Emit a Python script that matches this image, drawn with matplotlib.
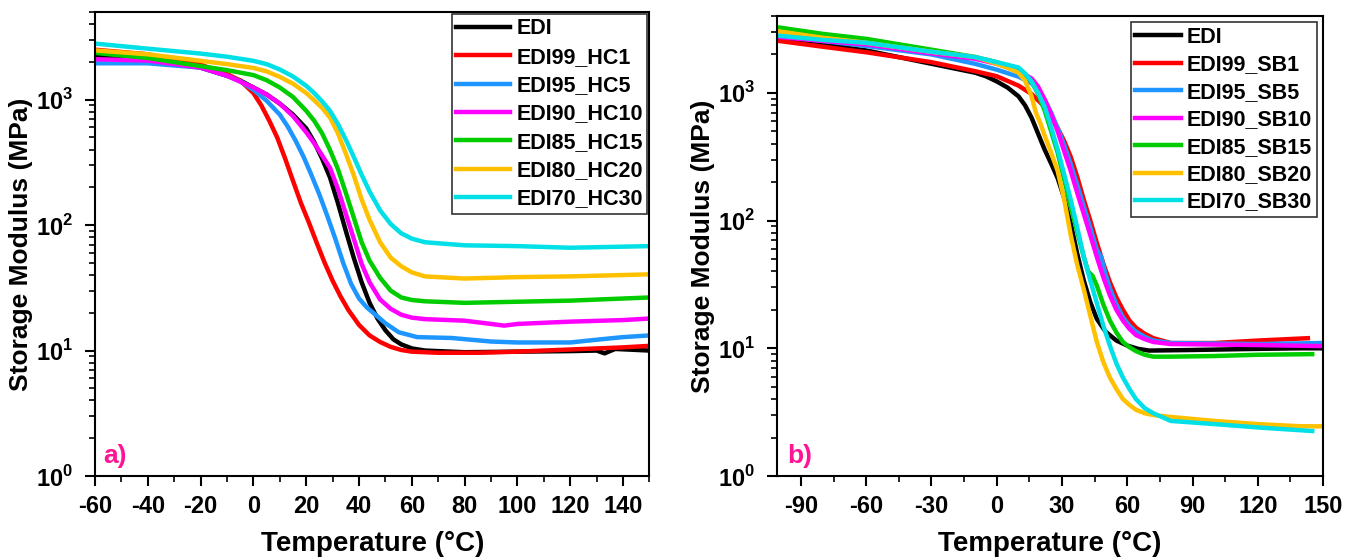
import matplotlib
matplotlib.use("Agg")
import matplotlib.pyplot as plt
from matplotlib.ticker import FixedLocator, MultipleLocator, LogLocator, NullFormatter

plt.rcParams['font.family'] = ['Liberation Sans', 'DejaVu Sans']
plt.rcParams['font.weight'] = 'bold'
plt.rcParams['axes.unicode_minus'] = False
plt.rcParams['mathtext.fontset'] = 'custom'
plt.rcParams['mathtext.rm'] = 'Liberation Sans:bold'
plt.rcParams['mathtext.bf'] = 'Liberation Sans:bold'

# ---- panel a: EDI / HC blends ----
labels_a = ['EDI', 'EDI99_HC1', 'EDI95_HC5', 'EDI90_HC10', 'EDI85_HC15', 'EDI80_HC20', 'EDI70_HC30']

t_edi_a = [-60, -40, -20, -10, -5, 0, 5, 10, 15, 20, 23, 26, 29, 32, 35, 38, 41, 44, 47, 50, 53, 56, 60, 65, 80, 100, 120, 130, 133, 137, 150]
m_edi_a = [2250, 2150, 1800, 1550, 1420, 1250, 1100, 930, 760, 590, 460, 340, 240, 150, 90, 55, 35, 24, 18, 14.5, 12.3, 11.2, 10.4, 10, 9.7, 9.8, 9.9, 10, 9.5, 10.3, 10]

t_hc1 = [-60, -40, -20, -10, -5, 0, 3, 6, 9, 12, 15, 18, 21, 24, 27, 30, 33, 36, 40, 44, 48, 52, 56, 60, 70, 85, 100, 120, 140, 150]
m_hc1 = [2500, 2300, 1900, 1600, 1420, 1130, 900, 680, 500, 340, 225, 150, 105, 72, 50, 36, 27, 21, 16, 13.2, 11.7, 10.7, 10.1, 9.8, 9.6, 9.6, 9.8, 10.2, 10.6, 10.9]

t_hc5 = [-60, -40, -20, -10, -5, 0, 5, 10, 13, 16, 19, 22, 25, 28, 31, 34, 37, 40, 43, 46, 50, 55, 62, 75, 90, 100, 120, 130, 140, 150]
m_hc5 = [1950, 1950, 1800, 1550, 1400, 1200, 980, 760, 610, 470, 350, 250, 175, 118, 78, 50, 34, 26, 22, 19.5, 16.5, 14, 12.8, 12.6, 11.8, 11.6, 11.6, 12.2, 12.8, 13.2]

t_hc10 = [-60, -40, -20, -10, 0, 5, 10, 15, 20, 23, 26, 29, 32, 35, 38, 41, 44, 48, 52, 56, 60, 65, 80, 90, 95, 100, 120, 140, 150]
m_hc10 = [2100, 2050, 1800, 1550, 1250, 1100, 930, 740, 550, 450, 360, 286, 195, 123, 78, 49, 35, 25.5, 21.5, 19.3, 18.3, 17.8, 17.3, 16.3, 15.8, 16.3, 17, 17.5, 18]

t_hc15 = [-60, -40, -20, -10, 0, 5, 10, 15, 20, 23, 26, 29, 32, 35, 38, 41, 44, 48, 52, 56, 60, 65, 80, 100, 120, 150]
m_hc15 = [2360, 2150, 1850, 1720, 1570, 1430, 1250, 1050, 815, 680, 540, 398, 280, 181, 115, 73, 52, 38, 30, 26.5, 25.3, 24.7, 24, 24.5, 25, 26.5]

t_hc20 = [-60, -40, -20, -10, 0, 5, 10, 15, 20, 23, 26, 29, 32, 35, 38, 41, 44, 48, 52, 56, 60, 65, 80, 100, 120, 150]
m_hc20 = [2470, 2300, 2040, 1920, 1790, 1680, 1520, 1340, 1130, 990, 860, 720, 540, 372, 250, 160, 110, 73, 55, 47, 42, 39, 37.5, 38.5, 39, 40.5]

t_hc30 = [-60, -40, -20, -10, 0, 5, 10, 15, 20, 23, 26, 29, 32, 35, 38, 41, 44, 48, 52, 56, 60, 65, 80, 100, 120, 150]
m_hc30 = [2800, 2550, 2330, 2200, 2040, 1920, 1740, 1530, 1290, 1130, 970, 815, 640, 480, 350, 252, 185, 131, 102, 86, 78, 73, 69, 68, 66, 68]

# ---- panel b: EDI / SB blends ----
labels_b = ['EDI', 'EDI99_SB1', 'EDI95_SB5', 'EDI90_SB10', 'EDI85_SB15', 'EDI80_SB20', 'EDI70_SB30']

t_edi_b = [-100, -80, -60, -30, -10, -5, 0, 5, 10, 13, 16, 19, 22, 25, 28, 31, 34, 37, 40, 43, 46, 50, 55, 60, 65, 70, 90, 120, 140, 150]
m_edi_b = [2700, 2400, 2150, 1690, 1440, 1350, 1230, 1100, 940, 800, 640, 480, 360, 280, 215, 150, 95, 55, 34, 23, 17, 13.5, 11.5, 10.5, 9.9, 9.6, 9.7, 9.9, 10, 10]

t_sb1 = [-100, -80, -60, -30, -10, 0, 10, 16, 22, 25, 28, 31, 34, 37, 40, 43, 46, 49, 52, 55, 58, 61, 64, 68, 72, 80, 100, 120, 143]
m_sb1 = [2550, 2300, 2080, 1740, 1480, 1350, 1140, 980, 780, 650, 530, 420, 316, 220, 146, 100, 67, 46, 33, 25, 20, 16.5, 14.5, 13, 12, 11, 11, 11.5, 12]

t_sb5 = [-100, -80, -60, -30, -10, 0, 10, 16, 19, 22, 25, 28, 31, 34, 37, 40, 43, 46, 48, 50, 52, 55, 58, 61, 64, 68, 72, 80, 120, 150]
m_sb5 = [2800, 2550, 2330, 2000, 1690, 1520, 1340, 1190, 1050, 890, 700, 530, 390, 277, 190, 129, 88, 59, 52, 38, 29.5, 22, 17.5, 15, 13.5, 12.3, 11.5, 11, 10.8, 11]

t_sb10 = [-100, -80, -60, -30, -10, 0, 10, 16, 19, 22, 25, 28, 31, 34, 37, 40, 43, 46, 49, 52, 55, 58, 61, 64, 68, 72, 80, 120, 150]
m_sb10 = [2740, 2550, 2400, 2040, 1850, 1690, 1480, 1300, 1120, 890, 680, 500, 350, 245, 165, 113, 77, 52, 36, 26, 20, 16.5, 14.2, 12.7, 11.8, 11.2, 10.8, 10.6, 10.4]

t_sb15 = [-100, -80, -60, -30, -10, 0, 10, 16, 19, 22, 25, 28, 31, 34, 37, 40, 42, 44, 46, 49, 52, 55, 58, 61, 64, 68, 72, 80, 100, 120, 145]
m_sb15 = [3250, 2900, 2650, 2180, 1910, 1740, 1520, 1230, 980, 730, 500, 340, 210, 129, 82, 52, 40, 37, 31, 22, 16.5, 13.3, 11.2, 10.2, 9.5, 8.9, 8.6, 8.6, 8.7, 8.9, 9]

t_sb20 = [-100, -80, -60, -30, -10, 0, 5, 10, 13, 16, 18, 20, 22, 25, 28, 31, 34, 37, 40, 43, 46, 49, 52, 55, 58, 61, 64, 68, 72, 80, 100, 120, 140, 150]
m_sb20 = [3030, 2700, 2470, 2100, 1910, 1690, 1570, 1440, 1250, 940, 700, 580, 465, 340, 245, 146, 77, 45, 29, 18, 11.2, 7.8, 5.9, 4.8, 4.0, 3.6, 3.3, 3.1, 3.0, 2.9, 2.7, 2.55, 2.45, 2.45]

t_sb30 = [-100, -80, -60, -30, -10, 0, 5, 10, 13, 16, 19, 22, 25, 28, 31, 34, 37, 40, 43, 46, 49, 52, 55, 58, 61, 64, 68, 72, 80, 100, 120, 145]
m_sb30 = [2800, 2600, 2470, 2100, 1910, 1740, 1660, 1580, 1420, 1230, 1000, 780, 540, 360, 230, 146, 88, 52, 34, 22.6, 15, 10.5, 7.6, 5.9, 4.8, 4.0, 3.4, 3.1, 2.7, 2.55, 2.4, 2.25]

colors = ['#000000', '#FF0000', '#1E96FF', '#FF00FF', '#00CC00', '#FFC000', '#00E0E6']

series_a = [(t_edi_a, m_edi_a), (t_hc1, m_hc1), (t_hc5, m_hc5), (t_hc10, m_hc10),
            (t_hc15, m_hc15), (t_hc20, m_hc20), (t_hc30, m_hc30)]
series_b = [(t_edi_b, m_edi_b), (t_sb1, m_sb1), (t_sb5, m_sb5), (t_sb10, m_sb10),
            (t_sb15, m_sb15), (t_sb20, m_sb20), (t_sb30, m_sb30)]

fig = plt.figure(figsize=(13.57, 5.6), dpi=100)
ax_a = fig.add_axes([0.0700, 0.150, 0.4086, 0.8286])
ax_b = fig.add_axes([0.5726, 0.150, 0.4024, 0.8214])


def style_axis(ax, xlim, ylim, xmajor, xminor, tag, tag_x, legend_pad, handle_len, spacing):
    ax.set_yscale('log')
    ax.set_xlim(*xlim)
    ax.set_ylim(*ylim)
    ax.xaxis.set_major_locator(MultipleLocator(xmajor))
    ax.xaxis.set_minor_locator(MultipleLocator(xminor))
    ax.yaxis.set_major_locator(FixedLocator([1, 10, 100, 1000]))
    ax.set_yticklabels([r'$10^{0}$', r'$10^{1}$', r'$10^{2}$', r'$10^{3}$'])
    ax.yaxis.set_minor_locator(LogLocator(base=10, subs=range(2, 10)))
    ax.yaxis.set_minor_formatter(NullFormatter())
    ax.tick_params(which='major', direction='out', length=7, width=1.5, labelsize=17,
                   top=False, right=False)
    ax.tick_params(axis='x', which='major', pad=7)
    ax.tick_params(axis='y', which='major', pad=9)
    ax.tick_params(which='minor', direction='out', length=4, width=1.2, top=False, right=False)
    for sp in ax.spines.values():
        sp.set_linewidth(1.5)
    ax.set_xlabel('Temperature (°C)', fontsize=20, fontweight='bold', labelpad=9)
    ax.set_ylabel('Storage Modulus (MPa)', fontsize=19, fontweight='bold', labelpad=2)
    ax.text(tag_x, 0.018, tag, transform=ax.transAxes, color='#FF1493',
            fontsize=19, fontweight='bold', ha='left', va='bottom')
    leg = ax.legend(loc='upper right', fontsize=15.5, frameon=True, fancybox=False,
                    handlelength=handle_len, handletextpad=0.3, labelspacing=spacing,
                    borderpad=0.2, borderaxespad=legend_pad)
    leg.get_frame().set_edgecolor('black')
    leg.get_frame().set_linewidth(1.2)


for (t, m), c, lab in zip(series_a, colors, labels_a):
    ax_a.plot(t, m, color=c, lw=3.2, label=lab)
for (t, m), c, lab in zip(series_b, colors, labels_b):
    ax_b.plot(t, m, color=c, lw=3.2, label=lab)

style_axis(ax_a, (-60, 150), (1, 5000), 20, 10, 'a)', 0.014, 0.1, 2.5, 0.34)
style_axis(ax_b, (-101, 150), (1, 4000), 30, 15, 'b)', 0.018, 0.3, 2.1, 0.3)

fig.savefig('out.png', dpi=100)
